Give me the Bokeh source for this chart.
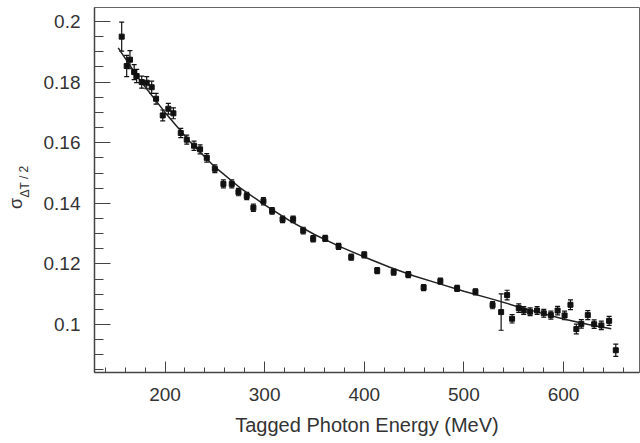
from bokeh.plotting import figure
from bokeh.layouts import row
from bokeh.models import (ColumnDataSource, Whisker, Range1d, SingleIntervalTicker,
                          CustomJSTickFormatter, Label, TeeHead)
from bokeh.embed import file_html
from bokeh.resources import INLINE

# Measured resolution vs tagged photon energy
energy = [156.5, 161.5, 164.8, 169.0, 171.5, 176.6, 181.6, 186.6, 191.0, 197.7,
          203.3, 208.4, 215.8, 221.8, 229.1, 235.2, 241.9, 250.0, 258.6, 267.0,
          273.7, 282.0, 288.7, 298.8, 307.5, 318.0, 328.6, 338.7, 348.7, 360.8,
          374.2, 386.9, 400.0, 413.0, 429.5, 444.2, 459.6, 476.4, 493.2, 511.6,
          528.8, 537.4, 543.4, 548.4, 555.1, 560.1, 566.5, 573.5, 580.2, 587.3,
          594.1, 601.1, 607.0, 612.9, 617.9, 624.4, 630.8, 638.0, 645.8, 652.5]
sigma = [0.1950, 0.1853, 0.1874, 0.1833, 0.1820, 0.1800, 0.1798, 0.1783, 0.1745, 0.1690,
         0.1712, 0.1697, 0.1632, 0.1610, 0.1590, 0.1578, 0.1550, 0.1514, 0.1464, 0.1464,
         0.1437, 0.1424, 0.1385, 0.1407, 0.1375, 0.1347, 0.1347, 0.1310, 0.1283, 0.1284,
         0.1258, 0.1222, 0.1230, 0.1178, 0.1173, 0.1165, 0.1122, 0.1143, 0.1119, 0.1108,
         0.1064, 0.1041, 0.1097, 0.1019, 0.1054, 0.1046, 0.1042, 0.1046, 0.1037, 0.1031,
         0.1046, 0.1030, 0.1065, 0.0985, 0.1002, 0.1031, 0.1001, 0.0997, 0.1012, 0.0915]
sigma_err = [0.0048, 0.0035, 0.0030, 0.0025, 0.0022, 0.0020, 0.0020, 0.0020, 0.0018, 0.0018,
             0.0018, 0.0018, 0.0015, 0.0015, 0.0015, 0.0015, 0.0014, 0.0013, 0.0013, 0.0013,
             0.0012, 0.0012, 0.0012, 0.0012, 0.0011, 0.0011, 0.0011, 0.0011, 0.0010, 0.0010,
             0.0010, 0.0010, 0.0010, 0.0010, 0.0010, 0.0010, 0.0010, 0.0010, 0.0010, 0.0010,
             0.0012, 0.0060, 0.0016, 0.0014, 0.0014, 0.0013, 0.0013, 0.0013, 0.0013, 0.0013,
             0.0014, 0.0014, 0.0016, 0.0016, 0.0014, 0.0015, 0.0014, 0.0014, 0.0015, 0.0020]

# Fitted curve
fit_energy = [153, 175, 200, 225, 250, 275, 300, 325, 350, 375, 400, 425, 450,
              475, 500, 525, 550, 575, 600, 625, 648]
fit_sigma = [0.1913, 0.1805, 0.1700, 0.1603, 0.1520, 0.1452, 0.1395, 0.1343, 0.1297,
             0.1258, 0.1223, 0.1190, 0.1160, 0.1135, 0.1110, 0.1087, 0.1063, 0.1040,
             0.1018, 0.1000, 0.0986]

x_title = "Tagged Photon Energy (MeV)"
y_title_main = "σ"
y_title_sub = "ΔT / 2"

FONT = "Liberation Sans"
LABEL_W = 40
H = 443
TOP, BOTTOM = 7, 71

# narrow strip holding the rotated y title (its frame is aligned with the main frame;
# its y range is expressed in canvas pixels measured from the bottom edge)
lab = figure(width=LABEL_W, height=H, output_backend="svg", toolbar_location=None,
             x_range=Range1d(0, LABEL_W), y_range=Range1d(BOTTOM, H - TOP),
             x_axis_type=None, y_axis_type=None,
             min_border_left=0, min_border_right=0, min_border_top=TOP,
             min_border_bottom=BOTTOM,
             background_fill_color="white", border_fill_color="white")
lab.outline_line_color = None
lab.grid.visible = False
lab.add_layout(Label(x=15, y=H - 203, text=y_title_main, angle=1.5708,
                     text_align="center", text_baseline="middle", text_font=FONT,
                     text_font_size="18px", text_color="#333333"))
lab.add_layout(Label(x=24, y=H - 181, text=y_title_sub, angle=1.5708,
                     text_align="center", text_baseline="middle", text_font=FONT,
                     text_font_size="12px", text_color="#333333"))

p = figure(width=640 - LABEL_W, height=H, output_backend="svg", toolbar_location=None,
           x_range=Range1d(129.2, 676.3), y_range=Range1d(0.08416, 0.20462),
           min_border_left=94 - LABEL_W, min_border_right=1, min_border_top=TOP,
           min_border_bottom=BOTTOM,
           background_fill_color="white", border_fill_color="white")
p.grid.visible = False
p.outline_line_color = "#666666"
p.outline_line_width = 1

p.xaxis.ticker = SingleIntervalTicker(interval=100, num_minor_ticks=5)
p.yaxis.ticker = SingleIntervalTicker(interval=0.02, num_minor_ticks=4)
p.yaxis.formatter = CustomJSTickFormatter(code="return (Math.round(tick*100)/100).toString();")

for ax in (p.xaxis, p.yaxis):
    ax.axis_line_color = "#444444"
    ax.axis_line_width = 1.5
    ax.major_tick_line_color = "#444444"
    ax.minor_tick_line_color = "#444444"
    ax.major_tick_out = 0
    ax.minor_tick_out = 0
    ax.major_label_text_font = FONT
    ax.major_label_text_font_size = "19px"
    ax.major_label_text_color = "#333333"

p.xaxis.major_tick_in = 11
p.xaxis.minor_tick_in = 5
p.yaxis.major_tick_in = 16
p.yaxis.minor_tick_in = 9
p.xaxis.major_label_standoff = 15
p.yaxis.major_label_standoff = 14

p.xaxis.axis_label = x_title
p.xaxis.axis_label_text_font = FONT
p.xaxis.axis_label_text_font_size = "20px"
p.xaxis.axis_label_text_font_style = "normal"
p.xaxis.axis_label_text_color = "#333333"
p.xaxis.axis_label_standoff = 10

src = ColumnDataSource(dict(
    x=energy, y=sigma,
    upper=[s + e for s, e in zip(sigma, sigma_err)],
    lower=[s - e for s, e in zip(sigma, sigma_err)],
))

p.line(fit_energy, fit_sigma, line_color="#222222", line_width=1.5)

wh = Whisker(source=src, base="x", upper="upper", lower="lower",
             line_color="#111111", line_width=1.2,
             upper_head=TeeHead(size=5, line_color="#111111", line_width=1.2),
             lower_head=TeeHead(size=5, line_color="#111111", line_width=1.2))
p.add_layout(wh)
p.scatter("x", "y", source=src, marker="square", size=5,
          fill_color="#111111", line_color="#111111")

layout = row(lab, p, spacing=0)
open("out.html", "w").write(file_html(layout, INLINE))
